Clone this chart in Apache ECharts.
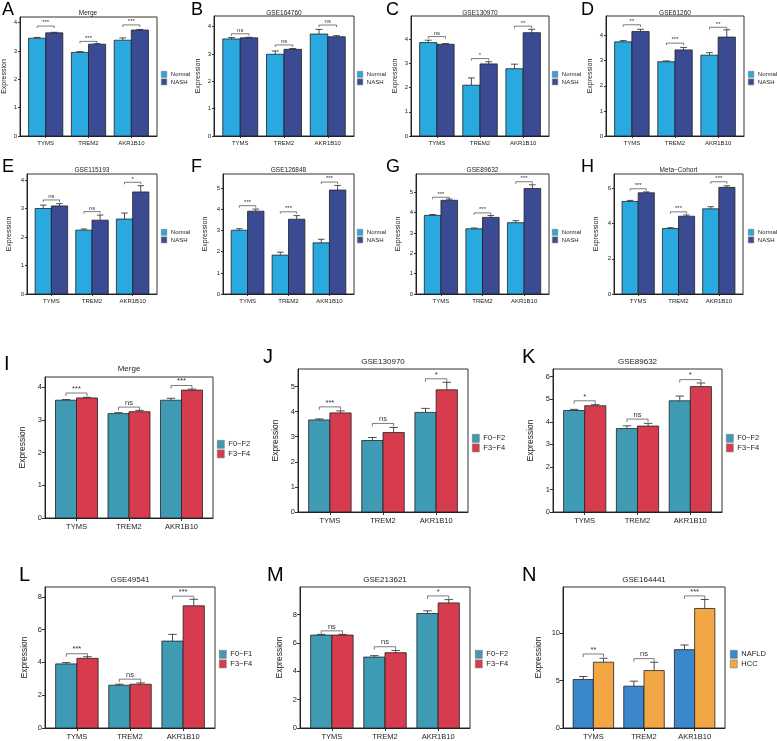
<!DOCTYPE html>
<html><head><meta charset="utf-8">
<script src="https://cdn.jsdelivr.net/npm/echarts@6/dist/echarts.min.js"></script>
<style>html,body{margin:0;padding:0;background:#fff}#c{width:777px;height:741px}</style>
</head><body><div id="c"></div>
<script>
const categories = ['TYMS', 'TREM2', 'AKR1B10'];

// A Merge
const A_g1 = [3.45, 2.95, 3.38], A_e1 = [0.03, 0.03, 0.08];
const A_g2 = [3.64, 3.24, 3.74], A_e2 = [0.02, 0.02, 0.02];
const A_sig = ['***', '***', '***'], A_sigY = [3.88, 3.34, 3.92];
// B GSE164760
const B_g1 = [3.55, 2.99, 3.73], B_e1 = [0.05, 0.12, 0.17];
const B_g2 = [3.59, 3.17, 3.63], B_e2 = [0.02, 0.03, 0.04];
const B_sig = ['ns', 'ns', 'ns'], B_sigY = [3.74, 3.33, 4.06];
// C GSE130970
const C_g1 = [3.86, 2.10, 2.78], C_e1 = [0.10, 0.30, 0.19];
const C_g2 = [3.79, 2.98, 4.27], C_e2 = [0.03, 0.09, 0.14];
const C_sig = ['ns', '*', '**'], C_sigY = [4.11, 3.20, 4.54];
// D GSE61260
const D_g1 = [3.75, 2.96, 3.22], D_e1 = [0.05, 0.03, 0.10];
const D_g2 = [4.16, 3.43, 3.94], D_e2 = [0.09, 0.10, 0.29];
const D_sig = ['**', '***', '**'], D_sigY = [4.43, 3.70, 4.33];
// E GSE115193
const E_g1 = [3.00, 2.24, 2.63], E_e1 = [0.12, 0.04, 0.21];
const E_g2 = [3.09, 2.59, 3.58], E_e2 = [0.08, 0.18, 0.22];
const E_sig = ['ns', 'ns', '*'], E_sigY = [3.30, 2.89, 3.92];
// F GSE126848
const F_g1 = [3.02, 1.84, 2.42], F_e1 = [0.07, 0.14, 0.17];
const F_g2 = [3.92, 3.54, 4.92], F_e2 = [0.10, 0.17, 0.22];
const F_sig = ['***', '***', '***'], F_sigY = [4.18, 3.89, 5.30];
// G GSE89632
const G_g1 = [3.86, 3.20, 3.50], G_e1 = [0.04, 0.04, 0.10];
const G_g2 = [4.60, 3.76, 5.18], G_e2 = [0.06, 0.09, 0.18];
const G_sig = ['***', '***', '***'], G_sigY = [4.75, 3.98, 5.51];
// H Meta-Cohort
const H_g1 = [5.26, 3.72, 4.84], H_e1 = [0.06, 0.05, 0.12];
const H_g2 = [5.75, 4.42, 6.06], H_e2 = [0.05, 0.07, 0.09];
const H_sig = ['***', '***', '***'], H_sigY = [5.98, 4.67, 6.38];
// I Merge (fibrosis)
const I_g1 = [3.60, 3.19, 3.60], I_e1 = [0.02, 0.03, 0.06];
const I_g2 = [3.67, 3.25, 3.91], I_e2 = [0.02, 0.04, 0.03];
const I_sig = ['***', 'ns', '***'], I_sigY = [3.82, 3.39, 4.05];
// J GSE130970
const J_g1 = [3.67, 2.85, 3.97], J_e1 = [0.04, 0.12, 0.16];
const J_g2 = [3.95, 3.17, 4.87], J_e2 = [0.08, 0.20, 0.30];
const J_sig = ['***', 'ns', '*'], J_sigY = [4.19, 3.53, 5.31];
// K GSE89632
const K_g1 = [4.50, 3.70, 4.93], K_e1 = [0.05, 0.12, 0.21];
const K_g2 = [4.71, 3.81, 5.56], K_e2 = [0.05, 0.12, 0.16];
const K_sig = ['*', 'ns', '*'], K_sigY = [4.93, 4.12, 5.87];
// L GSE49541
const L_g1 = [3.91, 2.61, 5.30], L_e1 = [0.08, 0.06, 0.41];
const L_g2 = [4.25, 2.67, 7.45], L_e2 = [0.10, 0.08, 0.40];
const L_sig = ['***', 'ns', '***'], L_sigY = [4.53, 2.98, 8.04];
// M GSE213621
const M_g1 = [6.55, 5.00, 8.07], M_e1 = [0.05, 0.10, 0.19];
const M_g2 = [6.55, 5.31, 8.82], M_e2 = [0.05, 0.16, 0.23];
const M_sig = ['ns', 'ns', '*'], M_sigY = [6.85, 5.73, 9.31];
// N GSE164441
const N_g1 = [5.12, 4.42, 8.28], N_e1 = [0.32, 0.53, 0.49];
const N_g2 = [6.95, 6.07, 12.63], N_e2 = [0.42, 0.88, 0.95];
const N_sig = ['**', 'ns', '***'], N_sigY = [7.82, 7.33, 13.96];

const ticks4 = [0, 1, 2, 3, 4], ticks5 = [0, 1, 2, 3, 4, 5], ticks6 = [0, 1, 2, 3, 4, 5, 6];
const ticksH = [0, 2, 4, 6], ticks8 = [0, 2, 4, 6, 8], ticksN = [0, 5, 10];

const namesNash = ['Normal', 'NASH'];
const namesFib = ['F0\u2212F2', 'F3\u2212F4'];
const namesFibL = ['F0\u2212F1', 'F3\u2212F4'];
const namesHcc = ['NAFLD', 'HCC'];

const colNash = ['#29A9E0', '#3A4B94'];
const colFib = ['#3F9BB4', '#D63C4E'];
const colHcc = ['#3A87CC', '#F2A744'];

const FF = '"Liberation Sans", Arial, Helvetica, sans-serif';

const SIZES = {
  s: {tickFont: 6, xFont: 6, nameFont: 7, titleFont: 6.5, legFont: 6, sigFont: 6, legW: 5.5, legH: 6, letterFont: 18, tickLen: 2, brTick: 2, xMargin: 4, yMargin: 3},
  l: {tickFont: 7.5, xFont: 7.5, nameFont: 8.5, titleFont: 8, legFont: 7.5, sigFont: 7.5, legW: 7, legH: 8, letterFont: 20, tickLen: 3, brTick: 3, xMargin: 5, yMargin: 3}
};

const panels = [
  {letter: 'A', title: 'Merge', d: [A_g1, A_e1, A_g2, A_e2, A_sig, A_sigY], names: namesNash, cols: colNash, box: [19, 157, 17, 136], ymax: 4.2, ticks: ticks4, sz: 's', lp: [2, 1], ty: 13, leg: [161, 71], gap: 12},
  {letter: 'B', title: 'GSE164760', d: [B_g1, B_e1, B_g2, B_e2, B_sig, B_sigY], names: namesNash, cols: colNash, box: [214, 354, 16, 136], ymax: 4.39, ticks: ticks4, sz: 's', lp: [191, 1], ty: 13, leg: [357, 71], gap: 12},
  {letter: 'C', title: 'GSE130970', d: [C_g1, C_e1, C_g2, C_e2, C_sig, C_sigY], names: namesNash, cols: colNash, box: [411, 549, 16, 136], ymax: 4.96, ticks: ticks4, sz: 's', lp: [386, 1], ty: 13, leg: [552, 71], gap: 12},
  {letter: 'D', title: 'GSE61260', d: [D_g1, D_e1, D_g2, D_e2, D_sig, D_sigY], names: namesNash, cols: colNash, box: [606, 744, 16, 136], ymax: 4.78, ticks: ticks4, sz: 's', lp: [581, 1], ty: 13, leg: [748, 71], gap: 12},
  {letter: 'E', title: 'GSE115193', d: [E_g1, E_e1, E_g2, E_e2, E_sig, E_sigY], names: namesNash, cols: colNash, box: [27, 157, 174, 294], ymax: 4.21, ticks: ticks4, sz: 's', lp: [2, 158], ty: 170.5, leg: [161, 229], gap: 14},
  {letter: 'F', title: 'GSE126848', d: [F_g1, F_e1, F_g2, F_e2, F_sig, F_sigY], names: namesNash, cols: colNash, box: [223, 354, 174, 294], ymax: 5.68, ticks: ticks5, sz: 's', lp: [191, 158], ty: 170.5, leg: [357, 229], gap: 14},
  {letter: 'G', title: 'GSE89632', d: [G_g1, G_e1, G_g2, G_e2, G_sig, G_sigY], names: namesNash, cols: colNash, box: [416, 549, 174, 294], ymax: 5.89, ticks: ticks5, sz: 's', lp: [386, 158], ty: 170.5, leg: [552, 229], gap: 14},
  {letter: 'H', title: 'Meta\u2212Cohort', d: [H_g1, H_e1, H_g2, H_e2, H_sig, H_sigY], names: namesNash, cols: colNash, box: [614, 743, 174, 294], ymax: 6.82, ticks: ticksH, sz: 's', lp: [581, 158], ty: 170.5, leg: [748, 229], gap: 14},
  {letter: 'I', title: 'Merge', d: [I_g1, I_e1, I_g2, I_e2, I_sig, I_sigY], names: namesFib, cols: colFib, box: [45, 213, 377, 518], ymax: 4.31, ticks: ticks4, sz: 'l', lp: [4, 354], ty: 369, leg: [217, 440], gap: 18},
  {letter: 'J', title: 'GSE130970', d: [J_g1, J_e1, J_g2, J_e2, J_sig, J_sigY], names: namesFib, cols: colFib, box: [298, 468, 369, 512], ymax: 5.7, ticks: ticks5, sz: 'l', lp: [263, 347], ty: 362, leg: [472, 434], gap: 18},
  {letter: 'K', title: 'GSE89632', d: [K_g1, K_e1, K_g2, K_e2, K_sig, K_sigY], names: namesFib, cols: colFib, box: [553, 722, 369, 512], ymax: 6.34, ticks: ticks6, sz: 'l', lp: [522, 347], ty: 362, leg: [726, 434], gap: 18},
  {letter: 'L', title: 'GSE49541', d: [L_g1, L_e1, L_g2, L_e2, L_sig, L_sigY], names: namesFibL, cols: colFib, box: [45, 215, 587, 728], ymax: 8.6, ticks: ticks8, sz: 'l', lp: [19, 565], ty: 580, leg: [219, 650], gap: 16},
  {letter: 'M', title: 'GSE213621', d: [M_g1, M_e1, M_g2, M_e2, M_sig, M_sigY], names: namesFib, cols: colFib, box: [300, 470, 587, 728], ymax: 9.94, ticks: ticks8, sz: 'l', lp: [267, 565], ty: 580, leg: [475, 650], gap: 16},
  {letter: 'N', title: 'GSE164441', d: [N_g1, N_e1, N_g2, N_e2, N_sig, N_sigY], names: namesHcc, cols: colHcc, box: [563, 725, 587, 728], ymax: 14.9, ticks: ticksN, sz: 'l', lp: [522, 565], ty: 580, leg: [730, 650], gap: 20}
];

const grids = [], xAxes = [], yAxes = [], series = [], legends = [], graphics = [];

panels.forEach((p, i) => {
  const S = SIZES[p.sz];
  const [L, R, T, B] = p.box;
  grids.push({left: L, top: T, width: R - L, height: B - T, show: true, borderColor: '#333', borderWidth: 1, backgroundColor: 'rgba(0,0,0,0)'});
  xAxes.push({
    gridIndex: i, type: 'value', min: 0.4, max: 3.6,
    splitLine: {show: false},
    axisLine: {show: true, onZero: false, lineStyle: {color: '#222', width: 1}},
    axisTick: {show: true, customValues: [1, 2, 3], length: S.tickLen, lineStyle: {color: '#333'}},
    axisLabel: {customValues: [1, 2, 3], formatter: v => categories[Math.round(v) - 1], fontSize: S.xFont, color: '#222', margin: S.xMargin, fontFamily: FF}
  });
  yAxes.push({
    gridIndex: i, type: 'value', min: 0, max: p.ymax,
    splitLine: {show: false},
    axisLine: {show: true, onZero: false, lineStyle: {color: '#222', width: 1}},
    axisTick: {show: true, customValues: p.ticks, length: S.tickLen, lineStyle: {color: '#333'}},
    axisLabel: {customValues: p.ticks, fontSize: S.tickFont, color: '#222', margin: S.yMargin, fontFamily: FF},
    name: 'Expression', nameLocation: 'middle', nameGap: p.gap,
    nameTextStyle: {fontSize: S.nameFont, color: '#222', fontFamily: FF}
  });
  const [g1, e1, g2, e2, sig, sigY] = p.d;
  [[g1, e1, -0.2], [g2, e2, 0.2]].forEach(([vals, errs, off], gi) => {
    series.push({
      type: 'custom', name: p.names[gi], xAxisIndex: i, yAxisIndex: i, silent: true,
      itemStyle: {color: p.cols[gi]},
      data: vals.map((v, k) => [k + 1, v, errs[k]]),
      renderItem: (params, api) => {
        const x = api.value(0) + off, v = api.value(1), e = api.value(2);
        const tl = api.coord([x - 0.2, v]), br = api.coord([x + 0.2, 0]);
        const top = api.coord([x, v + e]);
        const cl = api.coord([x - 0.08, v + e]), cr = api.coord([x + 0.08, v + e]);
        const fill = api.visual('color');
        return {type: 'group', children: [
          {type: 'line', shape: {x1: top[0], y1: tl[1], x2: top[0], y2: top[1]}, style: {stroke: '#222', lineWidth: 0.8}},
          {type: 'line', shape: {x1: cl[0], y1: top[1], x2: cr[0], y2: top[1]}, style: {stroke: '#222', lineWidth: 0.8}},
          {type: 'rect', shape: {x: tl[0], y: tl[1], width: br[0] - tl[0], height: br[1] - tl[1]}, style: {fill: fill, stroke: '#222', lineWidth: 0.8}}
        ]};
      }
    });
  });
  series.push({
    type: 'custom', name: 'sig' + i, xAxisIndex: i, yAxisIndex: i, silent: true,
    data: sigY.map((y, k) => [k + 1, y]),
    renderItem: (params, api) => {
      const x = api.value(0), y = api.value(1);
      const a = api.coord([x - 0.2, y]), b = api.coord([x + 0.2, y]);
      const t = S.brTick;
      return {type: 'group', children: [
        {type: 'polyline', shape: {points: [[a[0], a[1] + t], [a[0], a[1]], [b[0], b[1]], [b[0], b[1] + t]]}, style: {stroke: '#444', lineWidth: 0.7, fill: null}},
        {type: 'text', style: {text: sig[params.dataIndex], x: (a[0] + b[0]) / 2, y: a[1] - 0.3, align: 'center', verticalAlign: 'bottom', fontSize: S.sigFont, fill: '#333', fontFamily: FF}}
      ]};
    }
  });
  legends.push({
    left: p.leg[0], top: p.leg[1], orient: 'vertical', padding: 0, itemGap: 1,
    itemWidth: S.legW, itemHeight: S.legH, icon: 'rect', selectedMode: false,
    data: p.names,
    itemStyle: {borderColor: '#777', borderWidth: 0.6},
    textStyle: {fontSize: S.legFont, color: '#222', fontFamily: FF, padding: [0, 0, 0, -1]}
  });
  graphics.push({type: 'text', left: p.lp[0], top: p.lp[1], silent: true,
    style: {text: p.letter, fontSize: S.letterFont, fill: '#000', fontFamily: FF}});
  graphics.push({type: 'text', x: (L + R) / 2, y: p.ty, silent: true,
    style: {text: p.title, align: 'center', verticalAlign: 'middle', fontSize: S.titleFont, fill: '#222', fontFamily: FF}});
});

const chart = echarts.init(document.getElementById('c'));
chart.setOption({
  animation: false,
  backgroundColor: '#fff',
  textStyle: {fontFamily: FF},
  grid: grids, xAxis: xAxes, yAxis: yAxes, series: series, legend: legends,
  graphic: {elements: graphics}
});
</script></body></html>
